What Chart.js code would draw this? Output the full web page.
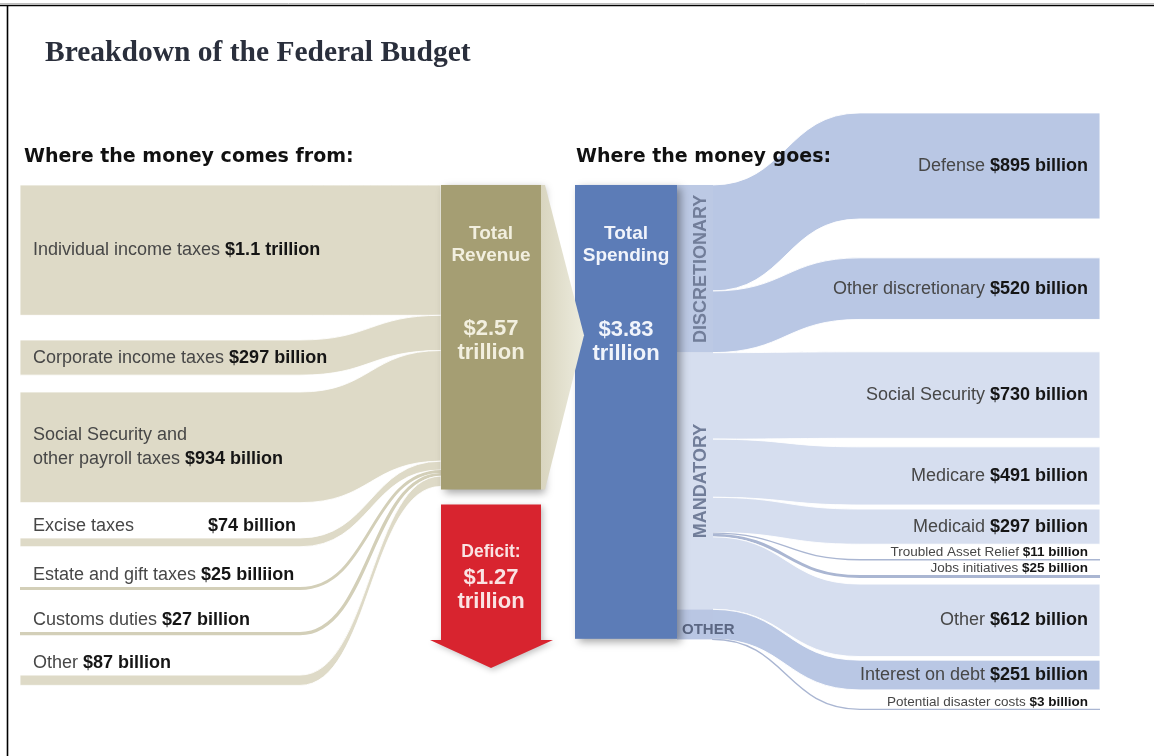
<!DOCTYPE html>
<html>
<head>
<meta charset="utf-8">
<title>Breakdown of the Federal Budget</title>
<script src="https://cdn.jsdelivr.net/npm/chart.js@4.4.0/dist/chart.umd.min.js"></script>
<style>
  html, body { margin: 0; padding: 0; background: #fff; }
  canvas { display: block; }
</style>
</head>
<body>
<canvas id="budget" width="1154" height="756"></canvas>
<script>
// where the money comes from ($ billions)
const sourceNames = ['Individual income taxes', 'Corporate income taxes', 'Social Security and\nother payroll taxes',
  'Excise taxes', 'Estate and gift taxes', 'Customs duties', 'Other'];
const sourceAmounts = ['$1.1 trillion', '$297 billion', '$934 billion', '$74 billion', '$25 billiion', '$27 billion', '$87 billion'];
const sourceValues = [1100, 297, 934, 74, 25, 27, 87];

const totalRevenue = 2570;
const totalSpending = 3830;
const deficit = 1270;

// where the money goes ($ billions)
const groupNames = ['DISCRETIONARY', 'MANDATORY', 'OTHER'];
const spendNames = ['Defense', 'Other discretionary', 'Social Security', 'Medicare', 'Medicaid',
  'Troubled Asset Relief', 'Jobs initiatives', 'Other', 'Interest on debt', 'Potential disaster costs'];
const spendAmounts = ['$895 billion', '$520 billion', '$730 billion', '$491 billion', '$297 billion',
  '$11 billion', '$25 billion', '$612 billion', '$251 billion', '$3 billion'];
const spendValues = [895, 520, 730, 491, 297, 11, 25, 612, 251, 3];
const spendGroup = [0, 0, 1, 1, 1, 1, 1, 1, 2, 2];

// layout: x in the x scale's units, gaps in the y scale's units (same as $bn)
const NODE_TOP = 1561;
const sourceGaps = [0, 208, 142, 298, 340, 354, 337];
const spendGaps = [-608, 328, 273, 72, 34, 125, 124, 51, 30, 163];
const DEFICIT_GAP = 127;
const COL = { left: 20, bend: 300, revL: 441, revR: 541, spL: 575, spR: 677, catR: 712, bendR: 860, right: 1100 };

const FONT = '"Liberation Sans", Arial, sans-serif';
const HEAD_FONT = '"DejaVu Sans", Verdana, sans-serif';
const THIN = 50;

function bandPath(ctx, x0, x1, x2, x3, a0, a1, b0, b1) {
  const xm = (x1 + x2) / 2;
  ctx.beginPath();
  ctx.moveTo(x0, a0);
  ctx.lineTo(x1, a0);
  ctx.bezierCurveTo(xm, a0, xm, b0, x2, b0);
  ctx.lineTo(x3, b0);
  ctx.lineTo(x3, b1);
  ctx.lineTo(x2, b1);
  ctx.bezierCurveTo(xm, b1, xm, a1, x1, a1);
  ctx.lineTo(x0, a1);
  ctx.closePath();
}

function linePath(ctx, x0, x1, x2, x3, a, b) {
  const xm = (x1 + x2) / 2;
  ctx.beginPath();
  ctx.moveTo(x0, a);
  ctx.lineTo(x1, a);
  ctx.bezierCurveTo(xm, a, xm, b, x2, b);
  ctx.lineTo(x3, b);
}

// draws normal / bold pieces on one baseline
function richText(ctx, parts, x, y, size, align) {
  let w = 0;
  parts.forEach(p => {
    ctx.font = (p.bold ? 'bold ' : '') + size + 'px ' + FONT;
    p.w = ctx.measureText(p.text).width;
    w += p.w;
  });
  let cx = align === 'right' ? x - w : x;
  ctx.textAlign = 'left';
  ctx.textBaseline = 'middle';
  parts.forEach(p => {
    ctx.font = (p.bold ? 'bold ' : '') + size + 'px ' + FONT;
    ctx.fillStyle = p.bold ? '#151515' : '#474747';
    ctx.fillText(p.text, cx, y);
    cx += p.w;
  });
}

function centerLines(ctx, lines, x, color) {
  ctx.textAlign = 'center';
  ctx.textBaseline = 'middle';
  ctx.fillStyle = color;
  lines.forEach(l => {
    ctx.font = 'bold ' + l.size + 'px ' + FONT;
    ctx.fillText(l.text, x, l.y);
  });
}

const budgetSankey = {
  id: 'budgetSankey',
  afterDraw(chart) {
    const ctx = chart.ctx;
    const X = v => chart.scales.x.getPixelForValue(v);
    const Y = v => chart.scales.y.getPixelForValue(v);
    ctx.save();

    // frame
    ctx.strokeStyle = '#bdbdbd';
    ctx.lineWidth = 1;
    ctx.beginPath(); ctx.moveTo(0, 3.5); ctx.lineTo(chart.width, 3.5); ctx.stroke();
    ctx.strokeStyle = '#000';
    ctx.lineWidth = 1.6;
    ctx.beginPath(); ctx.moveTo(0, 5.5); ctx.lineTo(chart.width, 5.5); ctx.stroke();
    ctx.beginPath(); ctx.moveTo(7.5, 5); ctx.lineTo(7.5, chart.height); ctx.stroke();

    // revenue flows
    let src = NODE_TOP, dst = NODE_TOP;
    sourceValues.forEach((v, i) => {
      src += sourceGaps[i];
      const a0 = Y(src), a1 = Y(src + v), b0 = Y(dst), b1 = Y(dst + v);
      if (v < THIN) {
        ctx.strokeStyle = '#d3cfb8';
        ctx.lineWidth = Math.max(a1 - a0, 2.2);
        linePath(ctx, X(COL.left), X(COL.bend), X(COL.revL), X(COL.revL), (a0 + a1) / 2, (b0 + b1) / 2);
        ctx.stroke();
      } else {
        ctx.fillStyle = '#dedac7';
        bandPath(ctx, X(COL.left), X(COL.bend), X(COL.revL), X(COL.revL), a0, a1, b0, b1);
        ctx.fill();
        ctx.strokeStyle = 'rgba(255,255,255,0.85)';
        ctx.lineWidth = 1;
        ctx.stroke();
      }
      // label
      const parts = sourceNames[i].split('\n');
      const ly = v < THIN * 2 ? a0 - 12 : (a0 + a1) / 2 - (parts.length - 1) * 12;
      parts.forEach((p, j) => {
        const last = j === parts.length - 1;
        const y = ly + j * 24;
        if (!last) { richText(ctx, [{ text: p, bold: false }], 33, y, 18, 'left'); return; }
        if (i === 3) {
          richText(ctx, [{ text: p, bold: false }], 33, y, 18, 'left');
          richText(ctx, [{ text: sourceAmounts[i], bold: true }], 296, y, 18, 'right');
        } else {
          richText(ctx, [{ text: p + ' ', bold: false }, { text: sourceAmounts[i], bold: true }], 33, y, 18, 'left');
        }
      });
      src += v; dst += v;
    });

    // spending flows
    const gStart = [], gEnd = [];
    let s2 = NODE_TOP, d2 = NODE_TOP;
    const groupFill = ['#b9c7e4', '#d6deef', '#b9c7e4'];
    spendValues.forEach((v, i) => {
      d2 += spendGaps[i];
      const g = spendGroup[i];
      if (gStart[g] === undefined) gStart[g] = s2;
      gEnd[g] = s2 + v;
      const a0 = Y(s2), a1 = Y(s2 + v), b0 = Y(d2), b1 = Y(d2 + v);
      if (v < THIN) {
        ctx.strokeStyle = '#aab6d2';
        ctx.lineWidth = Math.max(a1 - a0, 1.4);
        linePath(ctx, X(COL.catR), X(COL.catR), X(COL.bendR), X(COL.right), (a0 + a1) / 2, (b0 + b1) / 2);
        ctx.stroke();
      } else {
        ctx.fillStyle = groupFill[g];
        bandPath(ctx, X(COL.catR), X(COL.catR), X(COL.bendR), X(COL.right), a0, a1, b0, b1);
        ctx.fill();
        ctx.strokeStyle = 'rgba(255,255,255,0.9)';
        ctx.lineWidth = 1;
        ctx.stroke();
      }
      const ly = v < THIN ? b0 - 7 : (b0 + b1) / 2;
      richText(ctx, [{ text: spendNames[i] + ' ', bold: false }, { text: spendAmounts[i], bold: true }],
        X(COL.right) - 12, ly, v < THIN ? 13.5 : 18, 'right');
      s2 += v; d2 += v;
    });

    // title and headings, above the bands
    ctx.fillStyle = '#2a2f3c';
    ctx.font = 'bold 29.5px "Liberation Serif", "Times New Roman", serif';
    ctx.textAlign = 'left';
    ctx.textBaseline = 'middle';
    ctx.fillText('Breakdown of the Federal Budget', 45, 53);
    ctx.fillStyle = '#111';
    ctx.font = 'bold 19px ' + HEAD_FONT;
    ctx.fillText('Where the money comes from:', 24, 157);
    ctx.fillText('Where the money goes:', 576, 157);

    // category strip beside total spending
    const catFill = ['#bcc9e4', '#d6deef', '#b9c6e3'];
    groupNames.forEach((name, g) => {
      ctx.fillStyle = catFill[g];
      ctx.fillRect(X(COL.spR), Y(gStart[g]), X(COL.catR) - X(COL.spR) + 1, Y(gEnd[g]) - Y(gStart[g]));
    });
    ctx.fillStyle = '#717d99';
    ctx.font = 'bold 18px ' + FONT;
    ctx.textBaseline = 'middle';
    [0, 1].forEach(g => {
      ctx.save();
      ctx.translate((X(COL.spR) + X(COL.catR)) / 2 + 7, (Y(gStart[g]) + Y(gEnd[g])) / 2);
      ctx.rotate(-Math.PI / 2);
      ctx.textAlign = 'center';
      ctx.fillText(groupNames[g], 0, 0);
      ctx.restore();
    });
    ctx.fillStyle = '#5b6783';
    ctx.font = 'bold 15px ' + FONT;
    ctx.textAlign = 'left';
    ctx.fillText(groupNames[2], X(COL.spR) + 5, (Y(gStart[2]) + Y(gEnd[2])) / 2 + 6);

    // total revenue and total spending boxes
    const top = Y(NODE_TOP);
    ctx.save();
    ctx.shadowColor = 'rgba(0,0,0,0.35)';
    ctx.shadowBlur = 8; ctx.shadowOffsetX = 4; ctx.shadowOffsetY = 3;
    ctx.fillStyle = '#a59e73';
    ctx.fillRect(X(COL.revL), top, X(COL.revR) - X(COL.revL), Y(NODE_TOP + totalRevenue) - top);
    ctx.fillStyle = '#5c7cb7';
    ctx.fillRect(X(COL.spL), top, X(COL.spR) - X(COL.spL), Y(NODE_TOP + totalSpending) - top);
    ctx.restore();

    // deficit arrow
    const dTop = Y(NODE_TOP + totalRevenue + DEFICIT_GAP);
    const dBot = Y(NODE_TOP + totalRevenue + deficit);
    const xm = (X(COL.revL) + X(COL.revR)) / 2;
    ctx.save();
    ctx.shadowColor = 'rgba(0,0,0,0.25)';
    ctx.shadowBlur = 6; ctx.shadowOffsetX = 2; ctx.shadowOffsetY = 2;
    ctx.fillStyle = '#d8242f';
    ctx.beginPath();
    ctx.moveTo(X(COL.revL), dTop);
    ctx.lineTo(X(COL.revR), dTop);
    ctx.lineTo(X(COL.revR), dBot);
    ctx.lineTo(X(COL.revR) + 12, dBot);
    ctx.lineTo(xm, dBot + 28);
    ctx.lineTo(X(COL.revL) - 11, dBot);
    ctx.lineTo(X(COL.revL), dBot);
    ctx.closePath();
    ctx.fill();
    ctx.restore();

    // chevron from revenue into spending
    const rBot = Y(NODE_TOP + totalRevenue);
    const grad = ctx.createLinearGradient(X(COL.revR), 0, X(COL.spL) + 8, 0);
    grad.addColorStop(0, '#d9d5bf');
    grad.addColorStop(1, '#ecebdd');
    ctx.fillStyle = grad;
    ctx.beginPath();
    ctx.moveTo(X(COL.revR), top);
    ctx.lineTo(X(COL.revR) + 4, top);
    ctx.lineTo(X(COL.spL) + 9, (top + rBot) / 2 - 2);
    ctx.lineTo(X(COL.revR) + 4, rBot);
    ctx.lineTo(X(COL.revR), rBot);
    ctx.closePath();
    ctx.fill();

    // node captions
    const rx = (X(COL.revL) + X(COL.revR)) / 2;
    centerLines(ctx, [
      { text: 'Total', y: top + 49, size: 19 },
      { text: 'Revenue', y: top + 71, size: 19 },
      { text: '$' + (totalRevenue / 1000).toFixed(2), y: top + 144, size: 22 },
      { text: 'trillion', y: top + 168, size: 22 }
    ], rx, '#f2efdf');
    const sx = (X(COL.spL) + X(COL.spR)) / 2;
    centerLines(ctx, [
      { text: 'Total', y: top + 49, size: 19 },
      { text: 'Spending', y: top + 71, size: 19 },
      { text: '$' + (totalSpending / 1000).toFixed(2), y: top + 145, size: 22 },
      { text: 'trillion', y: top + 169, size: 22 }
    ], sx, '#f1f4fb');
    centerLines(ctx, [
      { text: 'Deficit:', y: dTop + 48, size: 17.5 },
      { text: '$' + (deficit / 1000).toFixed(2), y: dTop + 73, size: 22 },
      { text: 'trillion', y: dTop + 97, size: 22 }
    ], xm, '#fae3e3');

    ctx.restore();
  }
};

new Chart(document.getElementById('budget'), {
  type: 'scatter',
  data: { datasets: [] },
  options: {
    responsive: false,
    animation: false,
    layout: { padding: 0 },
    plugins: { legend: { display: false }, tooltip: { enabled: false } },
    scales: {
      x: { type: 'linear', min: 0, max: 1154, display: false },
      y: { type: 'linear', min: 0, max: 6380, reverse: true, display: false }
    }
  },
  plugins: [budgetSankey]
});
</script>
</body>
</html>
